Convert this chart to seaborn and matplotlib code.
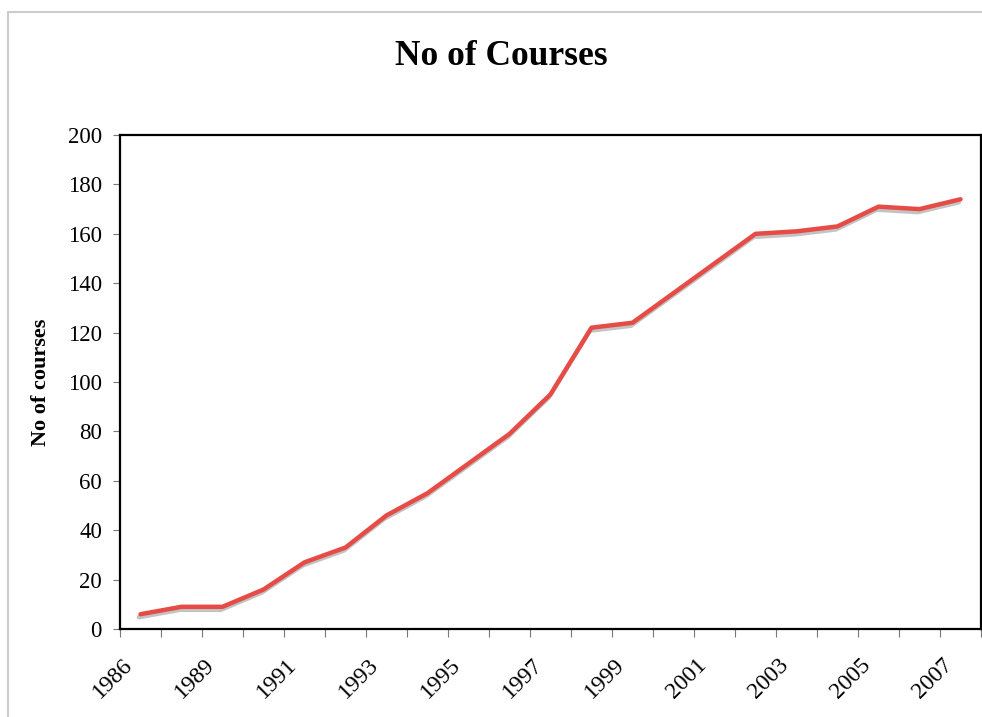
import numpy as np
import pandas as pd
import matplotlib
matplotlib.use('Agg')
import matplotlib.pyplot as plt
import matplotlib.patheffects as pe
from matplotlib.lines import Line2D
import seaborn as sns

# data
years = ['1986', '1988', '1989', '1990', '1991', '1992', '1993', '1994', '1995', '1996', '1997',
         '1998', '1999', '2000', '2001', '2002', '2003', '2004', '2005', '2006', '2007']
courses = [6, 9, 9, 16, 27, 33, 46, 55, 67, 79, 95,
           122, 124, 136, 148, 160, 161, 163, 171, 170, 174]
yticks = [0, 20, 40, 60, 80, 100, 120, 140, 160, 180, 200]

df = pd.DataFrame({'pos': np.arange(len(years)), 'year': years, 'courses': courses})

sns.set_theme(style='white')
plt.rcParams['font.family'] = ['Liberation Serif', 'DejaVu Serif']
plt.rcParams['text.color'] = 'black'
plt.rcParams['axes.labelcolor'] = 'black'
plt.rcParams['xtick.color'] = 'black'
plt.rcParams['ytick.color'] = 'black'

fig = plt.figure(figsize=(9.82, 7.17), dpi=100)
ax = fig.add_axes([0.1222, 0.1227, 0.8768, 0.689])

sns.lineplot(data=df, x='pos', y='courses', ax=ax, color='#E64B45', linewidth=3.2,
             path_effects=[pe.SimpleLineShadow(offset=(-1.2, -2.2), shadow_color='#888888', alpha=0.5),
                           pe.Normal()])

ax.set_xlim(-0.5, len(years) - 0.5)
ax.set_ylim(0, 200)
ax.set_yticks(yticks)
ax.set_yticklabels([str(v) for v in yticks], fontsize=16.5)

# tick marks between categories, labels on every other category
ax.set_xticks(np.arange(-0.5, len(years), 1.0))
ax.set_xticklabels([])
lab_pos = df['pos'][::2] - 0.45
ax.set_xticks(lab_pos, minor=True)
ax.set_xticklabels(df['year'][::2], minor=True, rotation=45, ha='right',
                   rotation_mode='anchor', fontsize=17)
ax.tick_params(axis='x', which='major', direction='out', length=6, width=0.8, color='#777777', bottom=True)
ax.tick_params(axis='x', which='minor', length=0, pad=18)
ax.tick_params(axis='y', direction='out', length=5, width=0.8, color='#777777', left=True, pad=8)

for s in ax.spines.values():
    s.set_color('black')
    s.set_linewidth(1.6)

ax.set_xlabel('')
ax.set_ylabel('No of courses', fontsize=16, fontweight='bold', labelpad=12)
fig.text(0.511, 0.921, 'No of Courses', ha='center', va='center', fontsize=25.5, fontweight='bold')

# light outer frame (left and top edges visible)
fig.add_artist(Line2D([0.0085, 0.0085], [0.0, 0.983], transform=fig.transFigure, color='#cccccc', lw=1.5))
fig.add_artist(Line2D([0.0085, 1.0], [0.983, 0.983], transform=fig.transFigure, color='#cccccc', lw=1.5))

fig.savefig('out.png', dpi=100)
